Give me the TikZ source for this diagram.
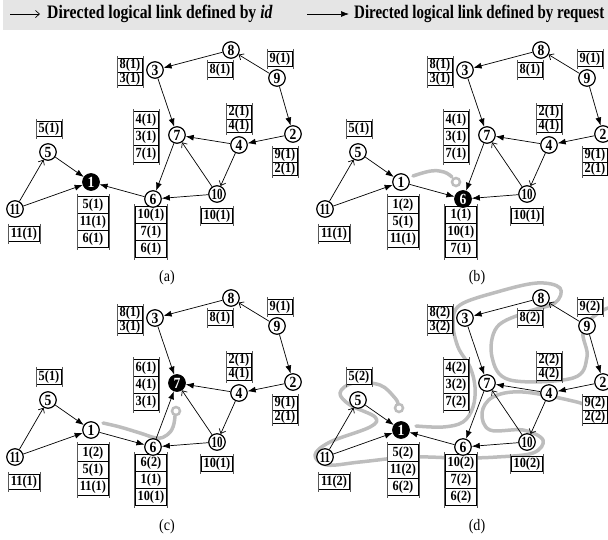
\documentclass[tikz,border=0pt]{standalone}
\usepackage{fontspec}
\usepackage{graphicx}
\setmainfont{Liberation Serif}[FakeStretch=0.88]
\usetikzlibrary{arrows.meta,shapes.multipart}
\definecolor{band}{gray}{0.9}
\definecolor{pathgray}{gray}{0.74}
\tikzset{
 vtx/.style={circle, draw, line width=1.2pt, fill=white, minimum size=16.5pt, inner sep=0pt, font=\fontsize{15.5}{15.5}\selectfont\bfseries},
 vtxfill/.style={fill=black, text=white},
 lbl/.style={rectangle split, rectangle split parts=1, draw, line width=0.7pt, fill=white, inner xsep=2.5pt, inner ysep=1pt,
   font=\fontsize{14}{14}\selectfont\bfseries,
   append after command={([yshift=2pt]\tikzlastnode.north west) edge[draw=gray!70!black,line width=0.7pt] ([yshift=-2pt]\tikzlastnode.south west)
     ([yshift=2pt]\tikzlastnode.north east) edge[draw=gray!70!black,line width=0.7pt] ([yshift=-2pt]\tikzlastnode.south east)}},
 two/.style={rectangle split parts=2, inner ysep=0pt},
 three/.style={rectangle split parts=3, inner ysep=1.7pt},
 lk/.style={line width=0.7pt, -{Straight Barb[length=4pt,width=7pt]}},
 rq/.style={line width=0.7pt, -{Latex[length=8pt,width=6pt]}},
 trail/.style={pathgray, line width=3.5pt, line cap=round, line join=round},
 trailend/.style={circle, draw=pathgray, line width=2.5pt, minimum size=8pt, inner sep=0pt},
 capt/.style={font=\fontsize{16}{16}\selectfont},
 legend/.style={anchor=west, font=\fontsize{17}{17}\selectfont\bfseries, inner sep=0pt},
}
\newcommand\vnum[1]{\ifnum#1>9 \scalebox{0.8}[1]{#1}\else #1\fi}
\newcommand\vertices[2]{%
 \foreach \n/\px/\py in {8/231/50,3/155/70,9/277/78,7/177/135,4/239/145,2/293/134,5/48/152,1/91/182,6/153/199,10/217/194,11/15/209}{%
   \ifnum\n=#2\relax \node[vtx,vtxfill] (#1\n) at (\px,\py) {\vnum{\n}};%
   \else \node[vtx] (#1\n) at (\px,\py) {\vnum{\n}};\fi
 }}
\newcommand\commonedges[1]{%
 \foreach \s/\t in {8/3,9/2,2/4,4/7,3/7,11/1,5/1,10/6} \draw[rq] (#1\s) -- (#1\t);
 \foreach \s/\t in {9/8,10/7,4/10,11/5} \draw[lk] (#1\s) -- (#1\t);}
\newcommand\commonlabels[2]{%
 \node[lbl,two] (#1l3) at (130,72) {8(#2)\nodepart{two}3(#2)};
 \node[lbl] (#1l8) at (220,70) {8(#2)};
 \node[lbl] (#1l9) at (280,59) {9(#2)};
 \node[lbl,two] (#1l4) at (239,119) {2(#2)\nodepart{two}4(#2)};
 \node[lbl,two] (#1l2) at (285,162) {9(#2)\nodepart{two}2(#2)};
 \node[lbl] (#1l5) at (49,129) {5(#2)};
 \node[lbl] (#1l10) at (217,216) {10(#2)};
 \node[lbl] (#1l11) at (24,234) {11(#2)};}
\begin{document}
\begin{tikzpicture}[x=1pt,y=-1pt]
\useasboundingbox (0,0) rectangle (608,539);
\fill[band] (3,0) rectangle (608,30);
% legend
\coordinate (k1s) at (10,14); \coordinate (k1e) at (40,14);
\draw[lk] (k1s) -- (k1e);
\node[legend] (k1t) at (47,14) {\scalebox{1.05}[1.12]{Directed logical link defined by \textit{id}}};
\coordinate (k2s) at (307,14); \coordinate (k2e) at (349,14);
\draw[rq] (k2s) -- (k2e);
\node[legend] (k2t) at (354,14) {\scalebox{1}[1.12]{Directed logical link defined by request}};
% ---------- (a)
\begin{scope}
\commonlabels{a}{1}
\node[lbl,three] (al7) at (146,137) {4(1)\nodepart{two}3(1)\nodepart{three}7(1)};
\node[lbl,three] (al1) at (93,222) {5(1)\nodepart{two}11(1)\nodepart{three}6(1)};
\node[lbl,three] (al6) at (151,232) {10(1)\nodepart{two}7(1)\nodepart{three}6(1)};
\vertices{a}{1}
\commonedges{a}
\draw[rq] (a7) -- (a6); \draw[rq] (a6) -- (a1);
\node[capt] (acap) at (167,278) {(a)};
\end{scope}
% ---------- (b)
\begin{scope}[shift={(310,0)}]
\draw[trail] plot[smooth,tension=0.7] coordinates {(103,176) (121,171) (134,172) (142,177)};
\node[trailend] (bend) at (146,182) {};
\commonlabels{b}{1}
\node[lbl,three] (bl7) at (146,137) {4(1)\nodepart{two}3(1)\nodepart{three}7(1)};
\node[lbl,three] (bl1) at (93,222) {1(2)\nodepart{two}5(1)\nodepart{three}11(1)};
\node[lbl,three] (bl6) at (151,232) {1(1)\nodepart{two}10(1)\nodepart{three}7(1)};
\vertices{b}{6}
\commonedges{b}
\draw[rq] (b7) -- (b6); \draw[rq] (b1) -- (b6);
\node[capt] (bcap) at (167,278) {(b)};
\end{scope}
% ---------- (c)
\begin{scope}[shift={(0,248)}]
\draw[trail] plot[smooth,tension=0.7] coordinates {(103,175) (120,179) (140,185) (157,190) (167,187) (173,179) (175,168)};
\node[trailend] (cend) at (176,163) {};
\commonlabels{c}{1}
\node[lbl,three] (cl7) at (146,137) {6(1)\nodepart{two}4(1)\nodepart{three}3(1)};
\node[lbl,three] (cl1) at (93,222) {1(2)\nodepart{two}5(1)\nodepart{three}11(1)};
\node[lbl,three] (cl6) at (151,232) {6(2)\nodepart{two}1(1)\nodepart{three}10(1)};
\vertices{c}{7}
\commonedges{c}
\draw[rq] (c6) -- (c7); \draw[rq] (c1) -- (c6);
\node[capt] (ccap) at (167,279) {(c)};
\end{scope}
% ---------- (d)
\begin{scope}[shift={(310,248)}]
\draw[trail] plot[smooth,tension=0.6] coordinates {(106,178) (133,179) (153,174) (163,159) (165,139) (160,119) (148,99) (143,75) (150,57) (187,44) (227,35) (250,40) (245,55) (217,64) (187,79) (182,109) (200,132) (263,130) (277,109) (273,85) (283,69) (305,62) (310,110) (305,166) (267,154) (213,144) (183,149) (172,165) (180,182) (213,182) (233,192) (223,205) (187,209) (150,210) (100,209) (50,214) (17,217) (5,207) (20,194) (60,179) (65,169) (40,157) (30,145) (43,135) (70,137) (85,150) (88,156)};
\node[trailend] (dend) at (89,160) {};
\commonlabels{d}{2}
\node[lbl,three] (dl7) at (146,137) {4(2)\nodepart{two}3(2)\nodepart{three}7(2)};
\node[lbl,three] (dl1) at (93,222) {5(2)\nodepart{two}11(2)\nodepart{three}6(2)};
\node[lbl,three] (dl6) at (151,232) {10(2)\nodepart{two}7(2)\nodepart{three}6(2)};
\vertices{d}{1}
\commonedges{d}
\draw[rq] (d7) -- (d6); \draw[rq] (d6) -- (d1);
\node[capt] (dcap) at (167,279) {(d)};
\end{scope}
\end{tikzpicture}
\end{document}
